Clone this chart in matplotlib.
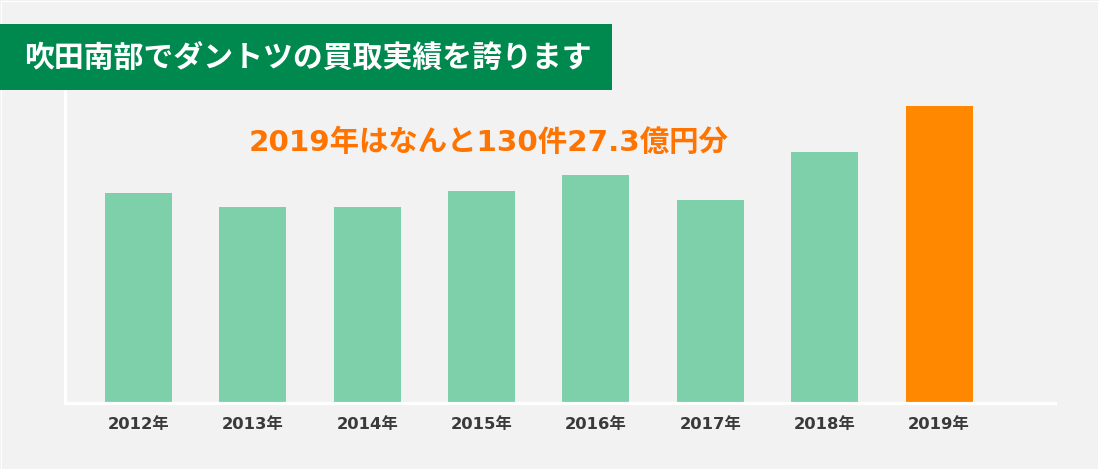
import matplotlib
matplotlib.use("Agg")
import matplotlib.pyplot as plt
from matplotlib.patches import Rectangle

# ---- data ----
years = ["2012年", "2013年", "2014年", "2015年", "2016年", "2017年", "2018年", "2019年"]
counts = [92, 86, 86, 93, 100, 89, 110, 130]   # 件 (2019 = 130件)
highlight_index = 7
title_text = "吹田南部でダントツの買取実績を誇ります"
note_text = "2019年はなんと130件27.3億円分"

# ---- style ----
BG = "#f2f2f2"
GREEN_BAR = "#7dd0aa"
ORANGE_BAR = "#ff8800"
ORANGE_TEXT = "#ff7300"
BANNER = "#00894f"
LABEL = "#3a3a3a"
MIXED = ["DejaVu Sans", "Noto Sans CJK JP"]

plt.rcParams["font.family"] = ["Noto Sans CJK JP", "DejaVu Sans"]

W, H, DPI = 1099, 469, 100
fig = plt.figure(figsize=(W / DPI, H / DPI), dpi=DPI, facecolor=BG)

# thin white frame around the whole picture
fig.patches.append(Rectangle((0.5 / W, 0.5 / H), (W - 2) / W, (H - 2) / H,
                             transform=fig.transFigure, fill=False,
                             edgecolor="white", linewidth=0.8))

# axes placed in pixel coordinates
ax_left, ax_right, ax_top, ax_bottom = 65, 1055, 90, 403
ax = fig.add_axes([ax_left / W, 1 - ax_bottom / H,
                   (ax_right - ax_left) / W, (ax_bottom - ax_top) / H])
ax.set_facecolor(BG)

x = list(range(len(years)))
colors = [ORANGE_BAR if i == highlight_index else GREEN_BAR for i in x]
ax.bar(x, counts, width=0.586, color=colors, zorder=2)

ax.set_xlim(-0.643, 8.014)
ax.set_ylim(0, 137)

for side in ("top", "right"):
    ax.spines[side].set_visible(False)
for side in ("left", "bottom"):
    ax.spines[side].set_color("white")
    ax.spines[side].set_linewidth(2.3)
    ax.spines[side].set_zorder(3)

ax.set_yticks([])
ax.set_xticks(x)
ax.set_xticklabels(years, fontsize=11.8, fontweight="bold", color=LABEL,
                   family=MIXED)
ax.tick_params(axis="x", length=0, pad=10)

# orange note
fig.text(489 / W, 1 - 143 / H, note_text, ha="center", va="center",
         fontsize=21.2, fontweight="bold", color=ORANGE_TEXT, family=MIXED)

# green banner with title
fig.patches.append(Rectangle((0, 1 - 90 / H), 612 / W, 66 / H,
                             transform=fig.transFigure, facecolor=BANNER,
                             edgecolor="none", zorder=5))
fig.text(308 / W, 1 - 58 / H, title_text, ha="center", va="center",
         fontsize=21.5, fontweight="bold", color="white", zorder=6)

fig.savefig("out.png", dpi=DPI, facecolor=BG)
